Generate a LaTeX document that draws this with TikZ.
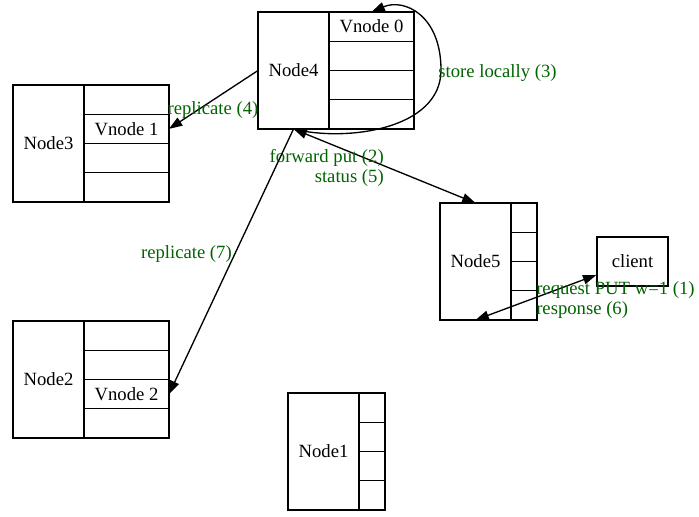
\documentclass[tikz,border=0pt]{standalone}
\usepackage{fontspec}
\setmainfont{Liberation Serif}
\usetikzlibrary{positioning,arrows.meta}
\definecolor{darkgreen}{HTML}{006400}
\tikzset{
  host/.style={draw, line width=1pt, outer sep=0pt, minimum width=53.25pt, minimum height=87.75pt, anchor=north east},
  slot/.style={draw, line width=1pt, outer sep=0pt, minimum height=21.9375pt, inner sep=0pt},
  edge/.style={->, line width=1pt},
  both/.style={<->, line width=1pt},
  lbl/.style={text=darkgreen, inner sep=0pt}
}
\begin{document}
\begin{tikzpicture}[x=0.75pt, y=-0.75pt, >={Triangle[length=10pt,width=7pt]},
  font=\fontsize{14}{14.5}\selectfont]
  \useasboundingbox (0,0) rectangle (699,517);
  % the machines
  \node[host] (n4) at (329,12) {Node4};
  \node[host] (n3) at (84,85) {Node3};
  \node[host] (n2) at (84,321) {Node2};
  \node[host] (n1) at (359,393) {Node1};
  \node[host] (n5) at (511,203) {Node5};
  \node[draw, line width=1pt, minimum width=53.25pt, minimum height=36.75pt] (client) at (632.5,261.5) {client};
  % vnode slots
  \foreach \n/\w in {n4/63.75pt, n3/63.75pt, n2/63.75pt, n1/19.5pt, n5/19.5pt} {
    \node[slot, minimum width=\w, anchor=north west] (\n c1) at (\n.north east) {};
    \foreach \i [count=\j from 2] in {1,2,3}
      \node[slot, minimum width=\w, below=0pt of \n c\i] (\n c\j) {};
  }
  \node (v0) at (n4c1) {Vnode 0};
  \node (v1) at (n3c2) {Vnode 1};
  \node (v2) at (n2c3) {Vnode 2};
  % requests
  \draw[both] (n5.south) -- (client);
  \node[lbl, anchor=west, align=left] (l16) at (536,300) {request PUT w=1 (1)\\response (6)};
  \draw[both] (n4.south) -- (n5.north);
  \node[lbl, anchor=east, align=right] (l25) at (384,168) {forward put (2)\\status (5)};
  \draw[edge] (n4.south) .. controls (345,142) and (441,130) .. (441,70)
    .. controls (441,15) and (404,-2) .. (n4c1.north);
  \node[lbl] (l3) at (497.5,73.5) {store locally (3)};
  % replication
  \draw[edge] (n4.west) -- (n3c2.east);
  \node[lbl] (l4) at (213,110.5) {replicate (4)};
  \draw[edge] (n4.south) -- (n2c3.east);
  \node[lbl, anchor=east] (l7) at (232,254.5) {replicate (7)};
\end{tikzpicture}
\end{document}
